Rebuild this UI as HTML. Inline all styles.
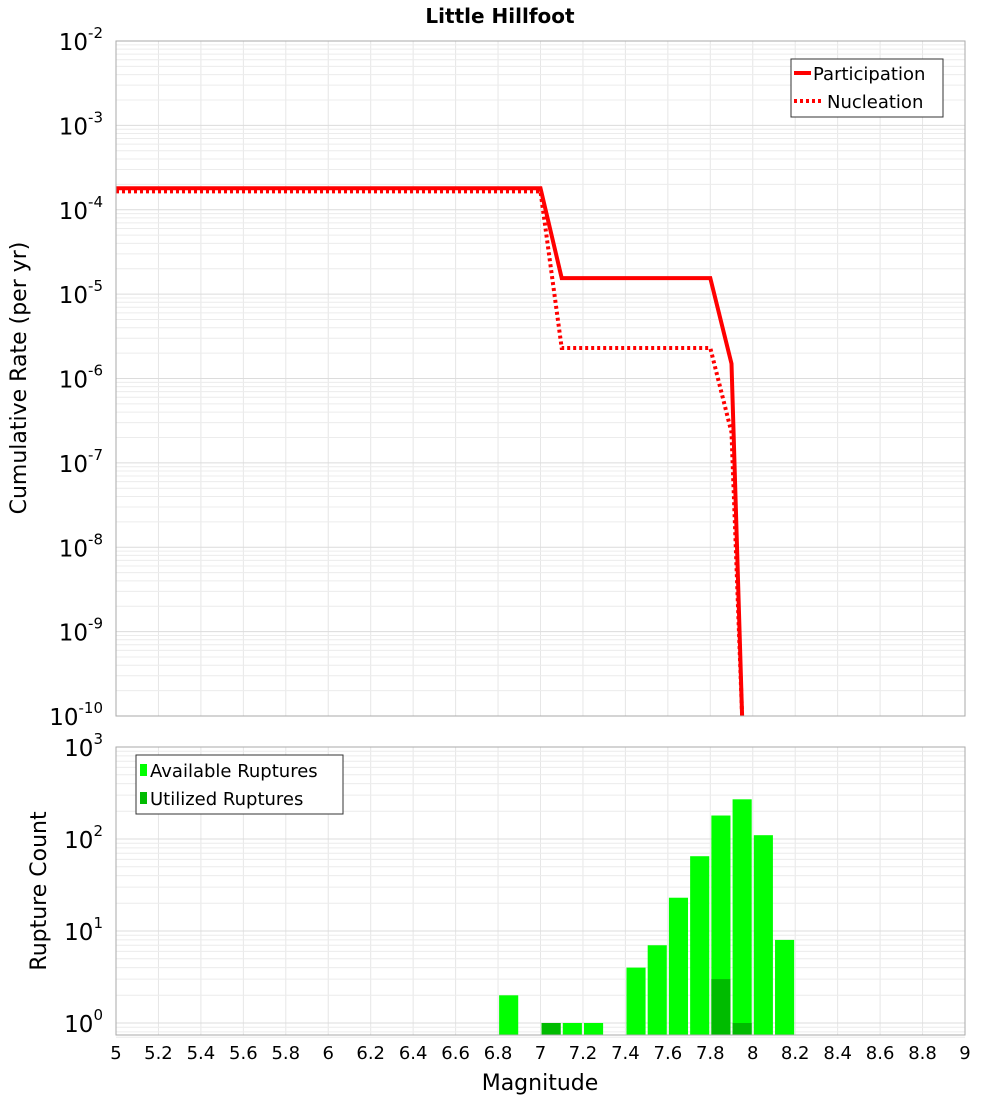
<!DOCTYPE html>
<html><head><meta charset="utf-8"><style>
body{margin:0;background:#fff;overflow:hidden;}
svg text{font-family:"DejaVu Sans","Liberation Sans",sans-serif;}
</style></head><body>
<svg id="c" width="1000" height="1100" xmlns="http://www.w3.org/2000/svg">
<text x="500" y="23" text-anchor="middle" font-size="20" font-weight="bold">Little Hillfoot</text>
<g id="gtop"></g><g id="gbot"></g>
</svg>
<script>
const partMags=[5,7.0,7.1,7.8,7.9,7.95];
const partRates=[1.8e-4,1.8e-4,1.55e-5,1.55e-5,1.5e-6,1e-11];
const nuclMags=[5,7.0,7.1,7.8,7.9,7.95];
const nuclRates=[1.65e-4,1.65e-4,2.3e-6,2.3e-6,2.3e-7,1e-11];
const binMags=[6.85,7.05,7.15,7.25,7.45,7.55,7.65,7.75,7.85,7.95,8.05,8.15];
const availCounts=[2,1,1,1,4,7,23,65,180,270,110,8];
const utilMags=[7.05,7.85,7.95];
const utilCounts=[1,3,1];
const xTicks=[5,5.2,5.4,5.6,5.8,6,6.2,6.4,6.6,6.8,7,7.2,7.4,7.6,7.8,8,8.2,8.4,8.6,8.8,9];
const topDecades=[-10,-9,-8,-7,-6,-5,-4,-3,-2];
const botDecades=[0,1,2,3];

const NS="http://www.w3.org/2000/svg";
const X0=116,X1=965;
const xs=m=>X0+(m-5)/4*(X1-X0);
const T0=41,T1=716;
const yT=v=>T0+(-2-Math.log10(v))/8*(T1-T0);
const B0=747,B1=1035,BD=92;
const yB=v=>1023-Math.log10(v)*BD;
function el(p,t,a){const e=document.createElementNS(NS,t);for(const k in a)e.setAttribute(k,a[k]);p.appendChild(e);return e;}
const gTop=document.getElementById('gtop'),gBot=document.getElementById('gbot');
function grid(g,y0,y1,yf,decs,minBottom){
  xTicks.forEach(m=>{const l=el(g,'line',{x1:xs(m),x2:xs(m),y1:y0,y2:y1,stroke:'#e6e6e6'});
  
  });
  for(let i=0;i<decs.length;i++){const d=decs[i];
    for(let k=1;k<10;k++){const y=yf(k*Math.pow(10,d));if(y<y0||y>y1)continue;
      const l=el(g,'line',{x1:X0,x2:X1,y1:y,y2:y,stroke:k==1?'#dcdcdc':'#ececec'});
      
      }}
  if(minBottom)for(let k=7;k<10;k++){const y=yf(k/10);const l=el(g,'line',{x1:X0,x2:X1,y1:y,y2:y,stroke:'#ececec'});
    
    }
}
grid(gTop,T0,T1,yT,topDecades,false);
grid(gBot,B0,B1,yB,botDecades,true);
function ylab(g,d,y){const t=el(g,'text',{x:103,y:y+9,'text-anchor':'end','font-size':'23'});
  t.textContent='10';const s=el(t,'tspan',{dy:-12,'font-size':'15'});s.textContent=d;
  
  }
topDecades.forEach(d=>ylab(gTop,d,yT(Math.pow(10,d))));
botDecades.forEach(d=>ylab(gBot,d,yB(Math.pow(10,d))));
function path(ms,vs){return ms.map((m,i)=>(i?'L':'M')+xs(m).toFixed(1)+','+Math.min(yT(vs[i]),T1).toFixed(1)).join('');}
const defs=el(gTop,'defs',{});
const cp=el(defs,'clipPath',{id:'cl'});el(cp,'rect',{x:X0,y:T0,width:X1-X0,height:T1-T0});
const pn=el(gTop,'path',{d:path(nuclMags,nuclRates),fill:'none',stroke:'#ff0000','stroke-width':4,'stroke-dasharray':'3,3','clip-path':'url(#cl)'});


const pp=el(gTop,'path',{d:path(partMags,partRates),fill:'none',stroke:'#ff0000','stroke-width':4,'clip-path':'url(#cl)'});


const bw=xs(0.09)-xs(0);
binMags.forEach((m,i)=>{const y=yB(availCounts[i]);const r=el(gBot,'rect',{x:xs(m)-bw/2,y:y,width:bw,height:B1-y,fill:'#00ff00'});
  
  });
utilMags.forEach((m,i)=>{const y=yB(utilCounts[i]);const r=el(gBot,'rect',{x:xs(m)-bw/2,y:y,width:bw,height:B1-y,fill:'#00bb00'});
  
  });
const f1=el(gTop,'rect',{x:X0,y:T0,width:X1-X0,height:T1-T0,fill:'none',stroke:'#aaa'});


const f2=el(gBot,'rect',{x:X0,y:B0,width:X1-X0,height:B1-B0,fill:'none',stroke:'#aaa'});


xTicks.forEach(m=>{const t=el(gBot,'text',{x:xs(m),y:1059,'text-anchor':'middle','font-size':'18'});t.textContent=String(m);
  
  });
</script>
<div style="position:absolute;left:0;top:0;width:1000px;height:1100px;pointer-events:none">
<svg width="1000" height="1100" xmlns="http://www.w3.org/2000/svg">
<text x="540" y="1090" text-anchor="middle" font-size="22" font-family="DejaVu Sans, sans-serif">Magnitude</text>
<text transform="translate(26,378) rotate(-90)" text-anchor="middle" font-size="22" font-family="DejaVu Sans, sans-serif">Cumulative Rate (per yr)</text>
<text transform="translate(46,891) rotate(-90)" text-anchor="middle" font-size="22" font-family="DejaVu Sans, sans-serif">Rupture Count</text>
<g font-family="DejaVu Sans, sans-serif" font-size="18">
<rect x="791" y="59" width="152" height="58" fill="#fff" stroke="#333"/>
<line x1="794" y1="73" x2="811" y2="73" stroke="#f00" stroke-width="4"/>
<text x="813" y="80">Participation</text>
<line x1="794" y1="101" x2="823" y2="101" stroke="#f00" stroke-width="4" stroke-dasharray="3,3"/>
<text x="827" y="108">Nucleation</text>
</g>
<g font-family="DejaVu Sans, sans-serif" font-size="18">
<rect x="136" y="755" width="207" height="59" fill="#fff" stroke="#333"/>
<rect x="140" y="764" width="7" height="12" fill="#00ff00"/>
<text x="150" y="777">Available Ruptures</text>
<rect x="140" y="792" width="7" height="12" fill="#00bb00"/>
<text x="150" y="805">Utilized Ruptures</text>
</g>
</svg></div>
</body></html>
